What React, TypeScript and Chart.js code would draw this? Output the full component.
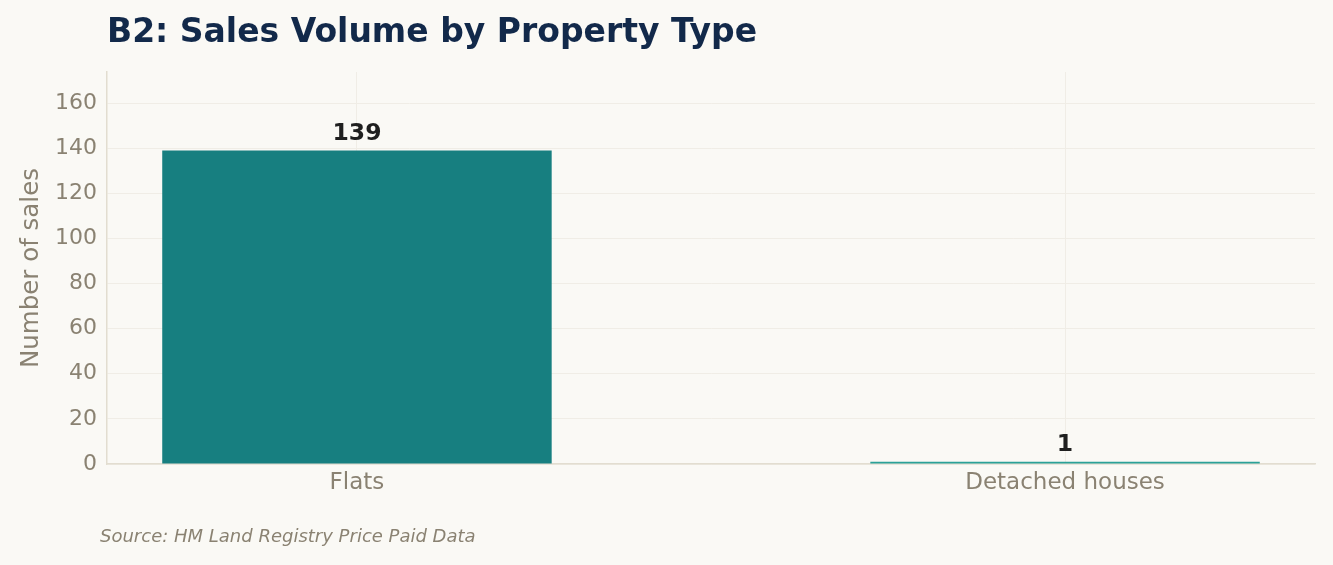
import { useEffect, useRef } from "react";
import { Chart, registerables } from "chart.js";

Chart.register(...registerables);

const categories = ["Flats", "Detached houses"];
const salesCounts = [139, 1];
const barColors = ["#177f80", "#2aa198"];
const yTicks = [0, 20, 40, 60, 80, 100, 120, 140, 160];

const FONT = "'DejaVu Sans', sans-serif";
const BG = "#faf9f5";
const MUTED = "#8a8272";

const annotations = {
  id: "annotations",
  beforeDraw(chart: Chart) {
    const { ctx, width, height } = chart;
    ctx.save();
    ctx.fillStyle = BG;
    ctx.fillRect(0, 0, width, height);
    ctx.restore();
  },
  afterDraw(chart: Chart) {
    const { ctx, chartArea } = chart;
    ctx.save();
    ctx.fillStyle = "#12294a";
    ctx.font = `bold 33px ${FONT}`;
    ctx.textAlign = "left";
    ctx.textBaseline = "alphabetic";
    ctx.fillText("B2: Sales Volume by Property Type", chartArea.left, 42);

    ctx.fillStyle = MUTED;
    ctx.font = `italic 18px ${FONT}`;
    ctx.textBaseline = "middle";
    ctx.fillText("Source: HM Land Registry Price Paid Data", 100, 537);

    // value labels above bars
    const meta = chart.getDatasetMeta(0);
    ctx.fillStyle = "#1f1f1f";
    ctx.font = `bold 23.5px ${FONT}`;
    ctx.textAlign = "center";
    ctx.textBaseline = "bottom";
    meta.data.forEach((bar: any, i: number) => {
      ctx.fillText(String(salesCounts[i]), bar.x, bar.y - 5);
    });
    ctx.restore();
  },
};

export default function App() {
  const canvasRef = useRef<HTMLCanvasElement>(null);
  const chartRef = useRef<Chart | null>(null);

  useEffect(() => {
    document.body.style.margin = "0";
    document.body.style.background = BG;
    if (!canvasRef.current) return;
    const ctx = canvasRef.current.getContext("2d");
    if (!ctx) return;

    chartRef.current = new Chart(ctx, {
      type: "bar",
      data: {
        datasets: [
          {
            data: salesCounts.map((v, i) => ({ x: i, y: v })),
            backgroundColor: barColors,
            borderWidth: 0,
            barPercentage: 0.55,
            categoryPercentage: 1,
          },
        ],
      },
      options: {
        animation: false,
        responsive: true,
        maintainAspectRatio: false,
        layout: { padding: { top: 72, right: 18, bottom: 0, left: 0 } },
        plugins: {
          legend: { display: false },
          tooltip: { enabled: false },
        },
        scales: {
          x: {
            type: "linear",
            min: -0.353,
            max: 1.353,
            offset: false,
            afterBuildTicks: (scale: any) => {
              scale.ticks = categories.map((_, i) => ({ value: i }));
            },
            afterFit: (scale: any) => {
              scale.height = 565 - 464;
            },
            ticks: {
              color: MUTED,
              font: { family: FONT, size: 23 },
              padding: 5,
              callback: (value: any) => categories[value] ?? "",
            },
            grid: { color: "#f0ede6", drawTicks: false, offset: false },
            border: { color: "#e2ddd0", width: 1.5 },
          },
          y: {
            min: 0,
            max: 173.75,
            afterBuildTicks: (scale: any) => {
              scale.ticks = yTicks.map((v) => ({ value: v }));
            },
            afterFit: (scale: any) => {
              scale.width = 107;
            },
            ticks: {
              color: MUTED,
              font: { family: FONT, size: 22 },
              padding: 10,
            },
            grid: { color: "#f0ede6", drawTicks: false },
            border: { color: "#e2ddd0", width: 1.5 },
            title: {
              display: true,
              text: "Number of sales",
              color: MUTED,
              font: { family: FONT, size: 24.5 },
              padding: { top: 17, bottom: 4 },
            },
          },
        },
      },
      plugins: [annotations],
    });

    return () => {
      chartRef.current?.destroy();
      chartRef.current = null;
    };
  }, []);

  return (
    <div style={{ width: 1333, height: 565, position: "relative" }}>
      <canvas ref={canvasRef} />
    </div>
  );
}
